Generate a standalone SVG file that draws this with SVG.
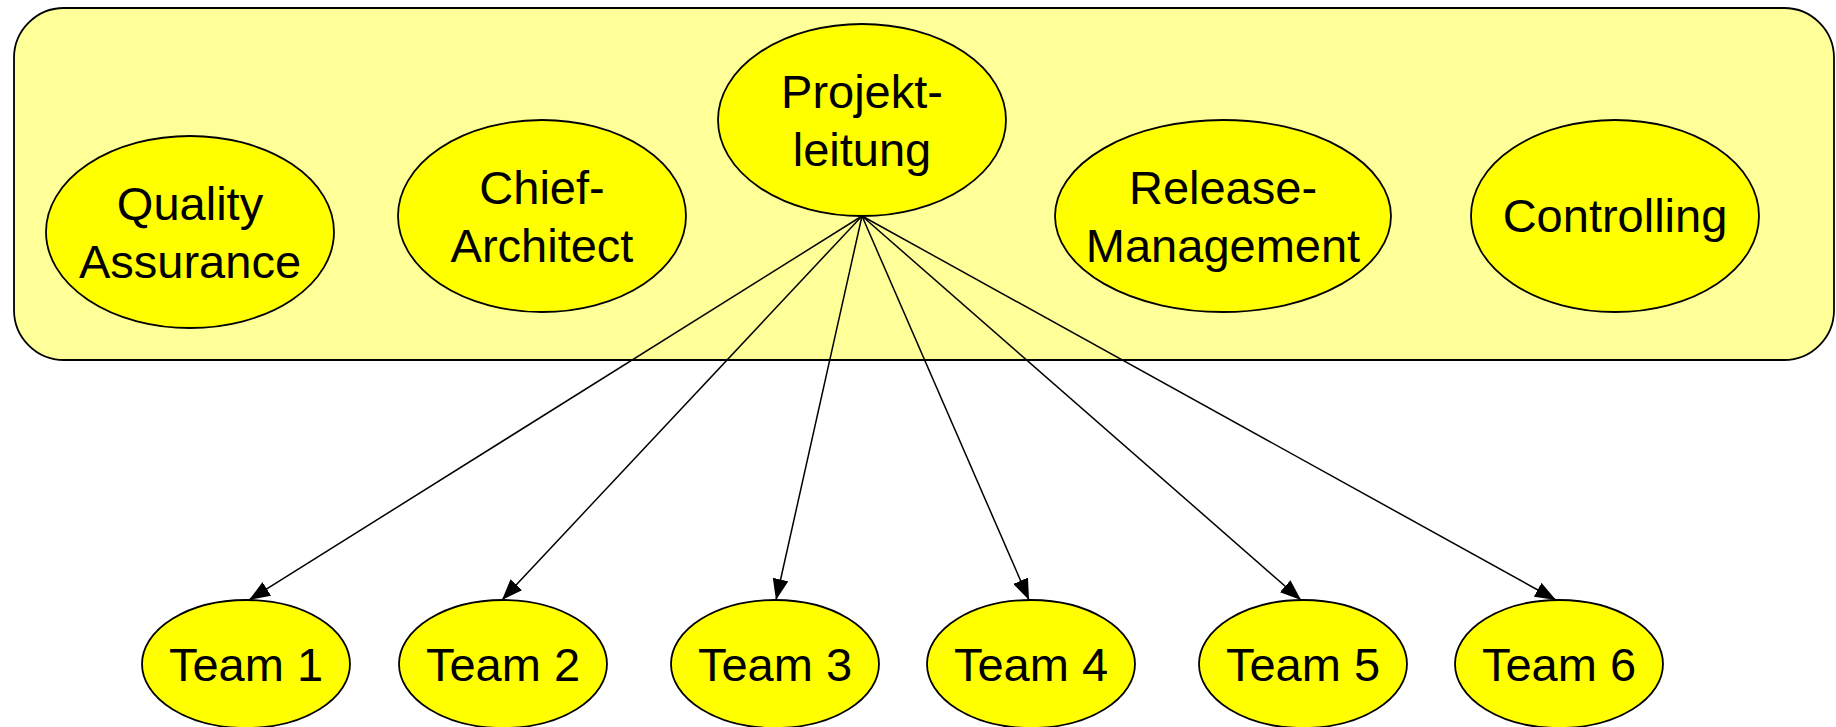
<svg xmlns="http://www.w3.org/2000/svg" width="1836" height="727" viewBox="0 0 1836 727">
<style>
.node ellipse{fill:#ffff00;stroke:#000;stroke-width:1.8}
.node text{font-family:"Liberation Sans",Arial,sans-serif;font-size:47px;text-anchor:middle;fill:#000}
.edge{stroke:#000;stroke-width:1.5;fill:none;marker-end:url(#arr)}
</style>
<defs>
<marker id="arr" viewBox="0 0 21 16" refX="21" refY="8" markerWidth="21" markerHeight="16" markerUnits="userSpaceOnUse" orient="auto">
<path d="M0,0 L21,8 L0,16 z" fill="#000"/>
</marker>
</defs>
<g id="cluster">
<rect x="14" y="8" width="1820" height="352" rx="50" ry="50" fill="#ffff99" stroke="#000" stroke-width="1.8"/>
</g>
<g id="connectors">
<line class="edge" x1="862" y1="216" x2="249" y2="600"/>
<line class="edge" x1="862" y1="216" x2="502" y2="600"/>
<line class="edge" x1="862" y1="216" x2="776" y2="600"/>
<line class="edge" x1="862" y1="216" x2="1029" y2="600"/>
<line class="edge" x1="862" y1="216" x2="1301" y2="600"/>
<line class="edge" x1="862" y1="216" x2="1556" y2="600"/>
</g>
<g id="qa" class="node"><ellipse cx="190" cy="232" rx="144" ry="96"/><text x="190" y="220">Quality</text><text x="190" y="278">Assurance</text></g>
<g id="chief" class="node"><ellipse cx="542" cy="216" rx="144" ry="96"/><text x="542" y="204">Chief-</text><text x="542" y="262">Architect</text></g>
<g id="pl" class="node"><ellipse cx="862" cy="120" rx="144" ry="96"/><text x="862" y="108">Projekt-</text><text x="862" y="166">leitung</text></g>
<g id="release" class="node"><ellipse cx="1223" cy="216" rx="168" ry="96"/><text x="1223" y="204">Release-</text><text x="1223" y="262">Management</text></g>
<g id="controlling" class="node"><ellipse cx="1615" cy="216" rx="144" ry="96"/><text x="1615" y="232">Controlling</text></g>
<g id="team1" class="node"><ellipse cx="246" cy="664" rx="104" ry="64"/><text x="246" y="681">Team 1</text></g>
<g id="team2" class="node"><ellipse cx="503" cy="664" rx="104" ry="64"/><text x="503" y="681">Team 2</text></g>
<g id="team3" class="node"><ellipse cx="775" cy="664" rx="104" ry="64"/><text x="775" y="681">Team 3</text></g>
<g id="team4" class="node"><ellipse cx="1031" cy="664" rx="104" ry="64"/><text x="1031" y="681">Team 4</text></g>
<g id="team5" class="node"><ellipse cx="1303" cy="664" rx="104" ry="64"/><text x="1303" y="681">Team 5</text></g>
<g id="team6" class="node"><ellipse cx="1559" cy="664" rx="104" ry="64"/><text x="1559" y="681">Team 6</text></g>
</svg>
